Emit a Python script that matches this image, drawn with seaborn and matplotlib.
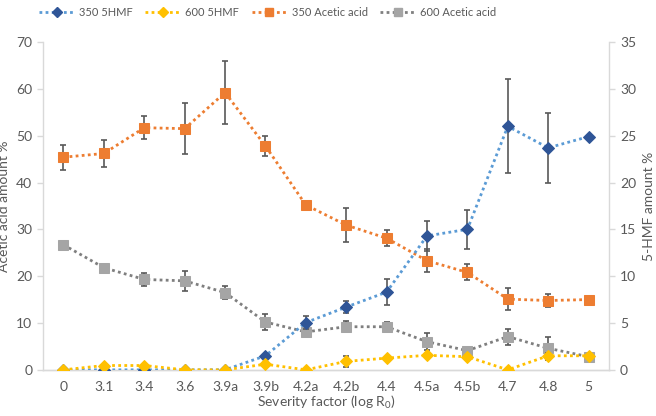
import numpy as np
import pandas as pd
import seaborn as sns
import matplotlib.pyplot as plt

# 数据
categories = ['0', '3.1', '3.4', '3.6', '3.9a', '3.9b', '4.2a', '4.2b',
              '4.4', '4.5a', '4.5b', '4.7', '4.8', '5']
hmf_350 = [0, 0, 0, 0, 0, 1.5, 5.05, 6.7, 8.3, 14.3, 15.0, 26.0, 23.7, 24.9]
hmf_350_err = [0, 0, 0, 0, 0, 0, 0.7, 0.65, 1.35, 1.6, 2.1, 5.0, 3.7, 0]
hmf_600 = [0, 0.46, 0.46, 0, 0, 0.6, 0, 0.9, 1.25, 1.55, 1.4, 0, 1.5, 1.5]
hmf_600_err = [0, 0, 0, 0, 0, 0, 0, 0.6, 0.15, 0, 0, 0, 0.3, 0]
acetic_350 = [45.4, 46.2, 51.7, 51.5, 59.2, 47.8, 35.2, 30.9, 28.1, 23.3, 20.8, 15.1, 14.8, 15.0]
acetic_350_err = [2.7, 2.9, 2.5, 5.4, 6.7, 2.1, 0.8, 3.7, 1.7, 2.4, 1.7, 2.4, 1.4, 0]
acetic_600 = [26.7, 21.8, 19.3, 19.0, 16.5, 10.2, 8.1, 9.2, 9.2, 6.0, 4.1, 7.1, 4.6, 2.8]
acetic_600_err = [0, 0, 1.35, 2.2, 1.3, 1.7, 0, 1.2, 1.1, 1.85, 0, 1.7, 2.4, 0]

sns.set_theme(style="white")
plt.rcParams['font.family'] = ['Lato', 'DejaVu Sans']
plt.rcParams['mathtext.default'] = 'regular'
text_color = '#595959'
axis_color = '#d9d9d9'

x = np.arange(len(categories))
df = pd.DataFrame({'x': x, 'hmf350': hmf_350, 'hmf600': hmf_600,
                   'ac350': acetic_350, 'ac600': acetic_600})

fig = plt.figure(figsize=(6.56, 4.16), dpi=100)
ax = fig.add_axes([0.066, 0.111, 0.862, 0.788])
ax2 = ax.twinx()

dot = (0, (1, 1.2))
err_kw = dict(fmt='none', ecolor='#595959', elinewidth=1.2, capsize=2.5, capthick=1.2)

# 左轴: 乙酸
ax.errorbar(x, acetic_350, yerr=acetic_350_err, zorder=2, **err_kw)
ax.errorbar(x, acetic_600, yerr=acetic_600_err, zorder=2, **err_kw)
sns.lineplot(data=df, x='x', y='ac350', ax=ax, color='#ED7D31', lw=2, linestyle=dot,
             marker='s', markersize=7, markeredgecolor='#ED7D31', zorder=3)
sns.lineplot(data=df, x='x', y='ac600', ax=ax, color='#7f7f7f', lw=2, linestyle=dot,
             marker='s', markersize=7, markerfacecolor='#A5A5A5', markeredgecolor='#A5A5A5', zorder=3)

# 右轴: 5-HMF
ax2.errorbar(x, hmf_350, yerr=hmf_350_err, zorder=2, **err_kw)
ax2.errorbar(x, hmf_600, yerr=hmf_600_err, zorder=2, **err_kw)
sns.lineplot(data=df, x='x', y='hmf350', ax=ax2, color='#5B9BD5', lw=2, linestyle=dot,
             marker='D', markersize=6.5, markerfacecolor='#2F5597', markeredgecolor='#2F5597', zorder=3)
sns.lineplot(data=df, x='x', y='hmf600', ax=ax2, color='#FFC000', lw=2, linestyle=dot,
             marker='D', markersize=6.5, markerfacecolor='#FFC000', markeredgecolor='#FFC000', zorder=3)

ax.set_xlim(-0.5, len(categories) - 0.5)
ax.set_ylim(0, 70)
ax2.set_ylim(0, 35)
ax.set_yticks(range(0, 71, 10))
ax2.set_yticks(range(0, 36, 5))
ax.set_xticks(x)
ax.set_xticklabels(categories)
ax.set_xticks(np.arange(-0.5, len(categories), 1), minor=True)

for a in (ax, ax2):
    a.spines['top'].set_visible(False)
    for side in ('left', 'right', 'bottom'):
        a.spines[side].set_color(axis_color)
        a.spines[side].set_linewidth(1)
    a.tick_params(axis='y', colors=axis_color, labelcolor=text_color, labelsize=10,
                  length=4, width=1, direction='out', pad=4)
ax.tick_params(axis='x', which='major', length=0, labelcolor=text_color, labelsize=10, pad=8)
ax.tick_params(axis='x', which='minor', length=4, width=1, color=axis_color, direction='out')
ax2.spines['left'].set_visible(False)
ax.spines['right'].set_visible(False)

ax.set_xlabel('Severity factor (log R$_0$)', color=text_color, fontsize=10, labelpad=1)
ax.set_ylabel('Acetic acid amount %', color=text_color, fontsize=10)
ax2.set_ylabel('5-HMF amount %', color=text_color, fontsize=10)
ax.yaxis.set_label_coords(-0.058, 0.5)
ax2.yaxis.set_label_coords(1.06, 0.5)

# 图例
handles = [
    plt.Line2D([], [], color='#5B9BD5', lw=2, linestyle=dot, marker='D', markersize=5.5,
               markerfacecolor='#2F5597', markeredgecolor='#2F5597'),
    plt.Line2D([], [], color='#FFC000', lw=2, linestyle=dot, marker='D', markersize=5.5,
               markerfacecolor='#FFC000', markeredgecolor='#FFC000'),
    plt.Line2D([], [], color='#ED7D31', lw=2, linestyle=dot, marker='s', markersize=6,
               markerfacecolor='#ED7D31', markeredgecolor='#ED7D31'),
    plt.Line2D([], [], color='#7f7f7f', lw=2, linestyle=dot, marker='s', markersize=6,
               markerfacecolor='#A5A5A5', markeredgecolor='#A5A5A5'),
]
labels = ['350 5HMF', '600 5HMF', '350 Acetic acid', '600 Acetic acid']
fig.legend(handles, labels, loc='upper left', bbox_to_anchor=(0.05, 1.0), ncol=4,
           frameon=False, fontsize=8, labelcolor=text_color, handlelength=3.2,
           columnspacing=1.1, handletextpad=0.4, borderaxespad=0.2)

fig.savefig('out.png', dpi=100)
